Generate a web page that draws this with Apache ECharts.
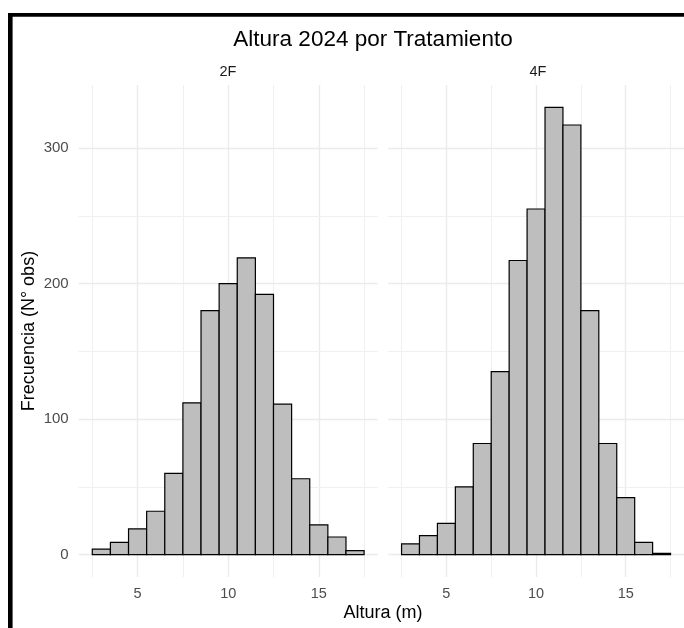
<!DOCTYPE html>
<html><head><meta charset="utf-8">
<script src="https://cdn.jsdelivr.net/npm/echarts@6/dist/echarts.min.js"></script>
<style>html,body{margin:0;padding:0;background:#fff}#c{width:684px;height:628px}</style>
</head><body><div id="c"></div>
<script>
// ---- data ----
const binCenters = [3,4,5,6,7,8,9,10,11,12,13,14,15,16,17];
const binWidth = 1;
const freq2F = [4,9,19,32,60,112,180,200,219,192,111,56,22,13,3];
const freq4F = [8,14,23,50,82,135,217,255,330,317,180,82,42,9,1];
const panelNames = ['2F','4F'];
const xTicks = [5,10,15];
const xMinor = [2.5,7.5,12.5,17.5];
const yTicks = [0,100,200,300];
const yMinor = [50,150,250];
const titleText = 'Altura 2024 por Tratamiento';
const xTitle = 'Altura (m)';
const yTitle = 'Frecuencia (N° obs)';

// ---- chart ----
const FONT = '"Liberation Sans", Arial, sans-serif';
const chart = echarts.init(document.getElementById('c'), null, {renderer:'canvas'});
const xMin = 1.75, xMax = 18.25, yMin = -16.5, yMax = 346.5;
const grids = [
  {left:78.7, top:85, width:299, height:492},
  {left:388.1, top:85, width:299, height:492}
];
function renderBar(params, api){
  const c = api.value(0), v = api.value(1);
  const p0 = api.coord([c - binWidth/2, v]);
  const p1 = api.coord([c + binWidth/2, 0]);
  return {type:'rect', shape:{x:p0[0], y:p0[1], width:p1[0]-p0[0], height:p1[1]-p0[1]},
    style:{fill:'#bebebe', stroke:'#000', lineWidth:1.2}};
}
const major = {color:'#ebebeb', width:1.4, type:'solid'};
const minor = {color:'#f0f0f0', width:1, type:'solid'};
function gridLines(){
  return [
    ...xTicks.map(v=>({xAxis:v, lineStyle:major})),
    ...xMinor.map(v=>({xAxis:v, lineStyle:minor})),
    ...yTicks.map(v=>({yAxis:v, lineStyle:major})),
    ...yMinor.map(v=>({yAxis:v, lineStyle:minor}))
  ];
}
const series = [freq2F, freq4F].map((arr, i) => ({
  type:'custom', xAxisIndex:i, yAxisIndex:i, z:3,
  renderItem: renderBar,
  data: binCenters.map((c, k) => [c, arr[k]]),
  markLine:{silent:true, symbol:['none','none'], z:1, label:{show:false}, animation:false, data:gridLines()}
}));
const xAxes = grids.map((g,i)=>({
  type:'value', gridIndex:i, min:xMin, max:xMax,
  axisLine:{show:false}, axisTick:{show:false}, splitLine:{show:false},
  axisLabel:{customValues:xTicks, color:'#4d4d4d', fontSize:14.5, fontFamily:FONT, margin:9}
}));
const yAxes = grids.map((g,i)=>({
  type:'value', gridIndex:i, min:yMin, max:yMax,
  axisLine:{show:false}, axisTick:{show:false}, splitLine:{show:false},
  axisLabel: i===0 ? {customValues:yTicks, color:'#4d4d4d', fontSize:15, fontFamily:FONT, margin:10} : {show:false},
  name: i===0 ? yTitle : '', nameLocation:'middle', nameRotate:90, nameGap:41,
  nameTextStyle:{color:'#000', fontSize:18, fontFamily:FONT}
}));
chart.setOption({
  animation:false,
  backgroundColor:'#fff',
  grid: grids.map(g=>Object.assign({containLabel:false}, g)),
  xAxis: xAxes, yAxis: yAxes, series: series,
  graphic:[
    {type:'rect', shape:{x:8, y:13, width:676, height:3.8}, style:{fill:'#000'}, z:10},
    {type:'rect', shape:{x:8, y:13, width:4.6, height:615}, style:{fill:'#000'}, z:10},
    {type:'text', x:373, y:40, style:{text:titleText, font:'22.5px '+FONT, fill:'#000', align:'center', verticalAlign:'middle'}},
    {type:'text', x:228, y:72, style:{text:panelNames[0], font:'14.5px '+FONT, fill:'#1a1a1a', align:'center', verticalAlign:'middle'}},
    {type:'text', x:538, y:72, style:{text:panelNames[1], font:'14.5px '+FONT, fill:'#1a1a1a', align:'center', verticalAlign:'middle'}},
    {type:'text', x:383, y:613, style:{text:xTitle, font:'18px '+FONT, fill:'#000', align:'center', verticalAlign:'middle'}}
  ]
});
</script></body></html>
